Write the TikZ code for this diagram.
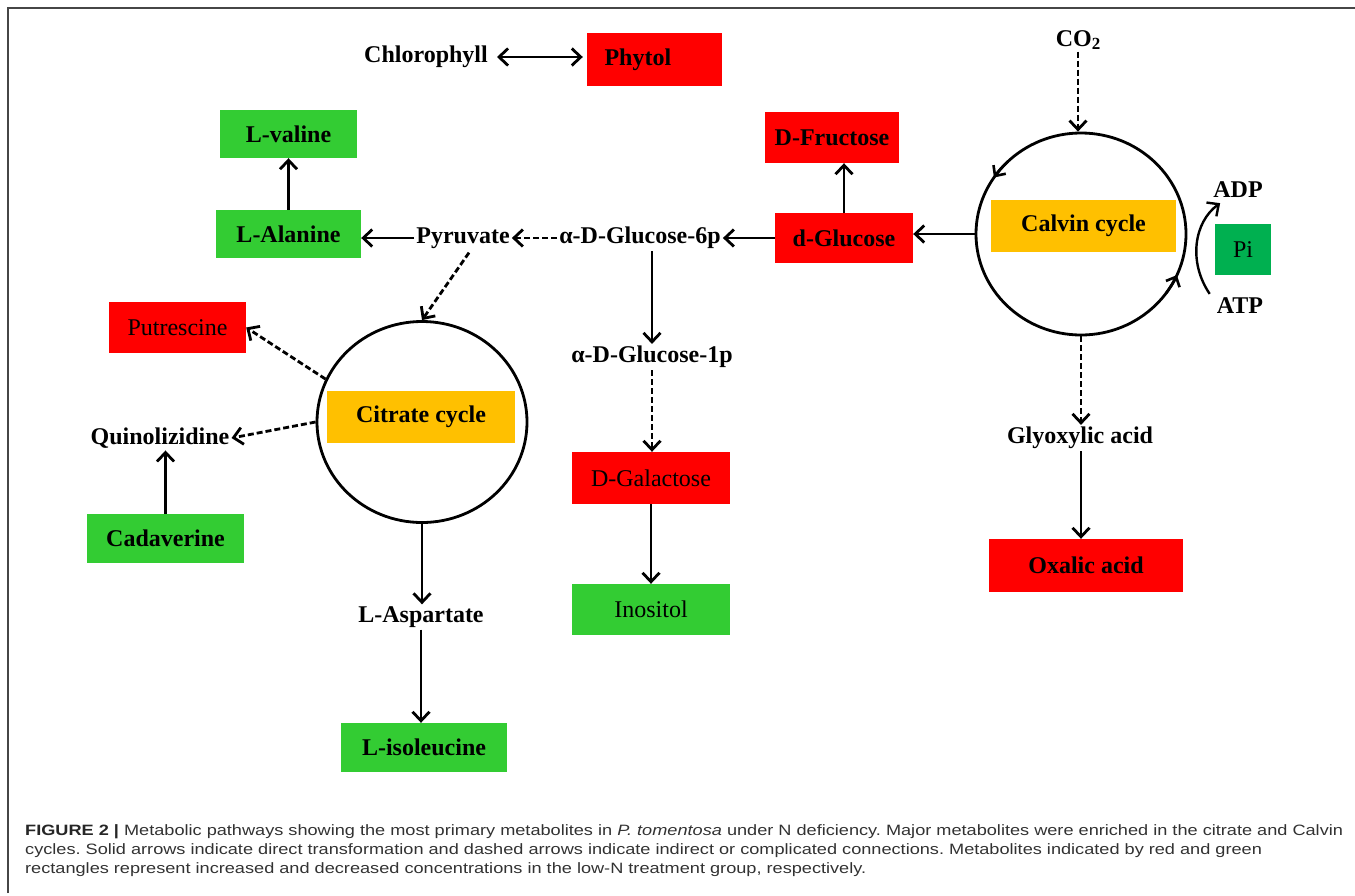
\documentclass[tikz,border=0pt]{standalone}
\usepackage{fontspec}
\setmainfont{Liberation Serif}
\newfontfamily\capfont[FakeStretch=1.21]{Liberation Sans}
\usetikzlibrary{arrows.meta,shapes.geometric,calc}
\definecolor{boxred}{RGB}{255,0,0}
\definecolor{boxgreen}{RGB}{51,204,51}
\definecolor{pigreen}{RGB}{0,176,80}
\definecolor{cycorange}{RGB}{255,192,0}
\definecolor{framegray}{RGB}{70,70,70}
\definecolor{capgray}{RGB}{50,50,50}
\frenchspacing
\begin{document}
\begin{tikzpicture}[x=1pt,y=-1pt,
  >={Straight Barb[length=9pt,width=17pt]},
  txt/.style={font=\fontsize{24}{26}\selectfont\bfseries, inner sep=2pt},
  plain/.style={font=\fontsize{24}{26}\selectfont},
  redbox/.style={fill=boxred, inner sep=0pt},
  greenbox/.style={fill=boxgreen, inner sep=0pt},
  orangebox/.style={fill=cycorange, inner sep=0pt},
  cyc/.style={ellipse, draw, line width=2.8pt, inner sep=0pt},
  arr/.style={->, line width=2.8pt},
  dsh/.style={dash pattern=on 6pt off 3pt},
  cycmark/.style={-{Straight Barb[length=8pt,width=15pt]}, line width=2.6pt},
  capline/.style={anchor=base west, inner sep=0pt, text=capgray, font=\capfont\fontsize{15}{19}\selectfont}
]
\useasboundingbox (0,0) rectangle (1355,895);
% frame
\draw[framegray, line width=1.8pt] (8,893) -- (8,8) -- (1355,8);

% cycles
\node[cyc, minimum width=210pt, minimum height=202pt] (calvin) at (1081,234) {};
\node[cyc, minimum width=210pt, minimum height=201pt] (cit) at (422,422) {};
\node[orangebox, minimum width=185pt, minimum height=52pt, txt] (calvbox) at (1083.5,226) {Calvin cycle};
\node[orangebox, minimum width=188pt, minimum height=52pt, txt] (citbox) at (421,417) {Citrate cycle};

% boxes
\node[redbox, minimum width=135pt, minimum height=53pt, text width=100pt, inner xsep=17.5pt, align=left, txt] (phytol) at (654.5,59.5) {Phytol};
\node[greenbox, minimum width=137pt, minimum height=48pt, txt] (lval) at (288.5,134) {L-valine};
\node[greenbox, minimum width=145pt, minimum height=48pt, txt] (lala) at (288.5,234) {L-Alanine};
\node[redbox, minimum width=134pt, minimum height=51pt, txt] (dfru) at (832,137.5) {D-Fructose};
\node[redbox, minimum width=138pt, minimum height=50pt, txt] (dglc) at (844,238) {d-Glucose};
\node[redbox, minimum width=137pt, minimum height=51pt, plain] (put) at (177.5,327.5) {Putrescine};
\node[greenbox, minimum width=157pt, minimum height=49pt, txt] (cad) at (165.5,538.5) {Cadaverine};
\node[greenbox, minimum width=166pt, minimum height=49pt, txt] (lile) at (424,747.5) {L-isoleucine};
\node[redbox, minimum width=158pt, minimum height=52pt, plain] (dgal) at (651,478) {D-Galactose};
\node[greenbox, minimum width=158pt, minimum height=51pt, plain] (ino) at (651,609.5) {Inositol};
\node[redbox, minimum width=194pt, minimum height=53pt, txt] (oxa) at (1086,565.5) {Oxalic acid};
\node[fill=pigreen, inner sep=0pt, minimum width=56pt, minimum height=51pt, plain] (pi) at (1243,249.5) {Pi};

% text labels
\node[txt] (chl) at (426,57) {Chlorophyll};
\node[txt] (co2) at (1078,40) {CO\raisebox{-3pt}{\fontsize{17}{17}\selectfont 2}};
\node[txt] (glc6p) at (640,238) {α-D-Glucose-6p};
\node[txt] (pyr) at (463,238) {Pyruvate};
\node[txt] (glc1p) at (652,357) {α-D-Glucose-1p};
\node[txt] (quin) at (160,438) {Quinolizidine};
\node[txt] (asp) at (421,617) {L-Aspartate};
\node[txt] (glyox) at (1080,438) {Glyoxylic acid};
\node[txt] (adp) at (1238,190) {ADP};
\node[txt] (atp) at (1240,306) {ATP};

% connectors
\draw[<->, line width=2.8pt, shorten <=7pt, shorten >=4pt] (chl.east) -- (chl.east -| phytol.west);
\draw[arr, dsh] (co2.south) -- (co2.south |- calvin.north);
\draw[arr] (calvin.west) -- (calvin.west -| dglc.east);
\draw[arr] (dglc.north) -- (dglc.north |- dfru.south);
\draw[arr] (dglc.west) -- (dglc.west -| glc6p.east);
\draw[arr, dsh] (glc6p.west) -- (glc6p.west -| pyr.east);
\draw[arr] (pyr.west) -- (pyr.west -| lala.east);
\draw[arr] (lala.north) -- (lala.north |- lval.south);
\draw[arr, dsh] ($(pyr.south)+(6,2)$) -- (cit.north);
\draw[arr, dsh] (cit.156) -- (put.east);
\draw[arr, dsh] (cit.west) -- (quin.east);
\draw[arr] (cad.north) -- (cad.north |- quin.south);
\draw[arr] (cit.south) -- (cit.south |- asp.north);
\draw[arr] (asp.south) -- (asp.south |- lile.north);
\draw[arr] (glc1p.north |- glc6p.south) -- (glc1p.north);
\draw[arr, dsh] (glc1p.south) -- (glc1p.south |- dgal.north);
\draw[arr] (dgal.south) -- (ino.north);
\draw[arr, dsh] (calvin.south) -- (calvin.south |- glyox.north);
\draw[arr] (glyox.south -| calvin.south) -- (oxa.north -| calvin.south);
\draw[->, line width=2.4pt] ($(atp.north west)+(-5,-2)$) .. controls (1188,262) and (1194,222) .. ($(adp.south west)+(9,3)$);

% direction marks on the Calvin cycle
\draw[cycmark] ($(calvin.center)+(226:105 and 101)$) arc[start angle=226, end angle=214, x radius=105, y radius=101];
\draw[cycmark] ($(calvin.center)+(36:105 and 101)$) arc[start angle=36, end angle=24, x radius=105, y radius=101];

% caption
\node[capline] (cap1) at (25,835) {\textcolor{black!85}{\bfseries FIGURE 2 |} Metabolic pathways showing the most primary metabolites in \textit{P. tomentosa} under N deficiency. Major metabolites were enriched in the citrate and Calvin};
\node[capline] (cap2) at (25,854) {cycles. Solid arrows indicate direct transformation and dashed arrows indicate indirect or complicated connections. Metabolites indicated by red and green};
\node[capline] (cap3) at (25,873) {rectangles represent increased and decreased concentrations in the low-N treatment group, respectively.};
\end{tikzpicture}
\end{document}
